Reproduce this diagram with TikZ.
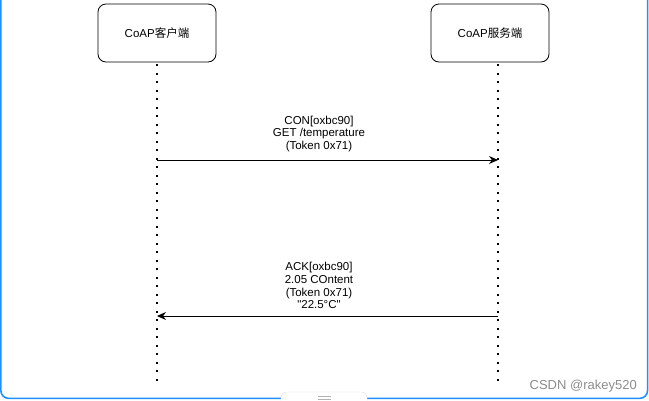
\documentclass[tikz,border=0pt]{standalone}
\usepackage{fontspec}
\setmainfont{Liberation Sans}[Ligatures=TeXOff]
\newfontfamily\cjk{Noto Sans CJK SC}
\usepackage{xcolor}
\usetikzlibrary{arrows.meta}
\definecolor{frameblue}{RGB}{30,144,255}

\begin{document}
\begin{tikzpicture}[x=1pt,y=-1pt,
  font=\fontsize{11.5}{12.8}\selectfont,
  party/.style={draw,rounded corners=8pt,minimum width=118pt,minimum height=58pt,line width=0.8pt},
  lifeline/.style={line width=2pt,dash pattern=on 2pt off 6.5pt},
  msg/.style={line width=0.9pt,-{Stealth[length=9pt,width=8pt]}},
  msgtext/.style={align=center,inner sep=0pt}]
  \useasboundingbox (0,0) rectangle (649,400);

  % frame of the screenshot
  \draw[frameblue,line width=1.6pt,rounded corners=8pt]
    (0.8,-10) -- (0.8,398.4) -- (647.6,398.4) -- (647.6,-10);
  \draw[black!12,fill=white,rounded corners=6pt]
    (281,408) -- (281,392) -- (367,392) -- (367,408);
  \draw[black!30,line width=1pt] (318,396) -- (331,396) (318,399) -- (331,399);

  % the two parties
  \node[party] (client) at (157,33) {CoAP{\cjk 客户端}};
  \node[party] (server) at (490,33) {CoAP{\cjk 服务端}};

  \coordinate (client-end) at (157,385);
  \coordinate (server-end) at (498,385);
  \draw[lifeline] (client.south) ++(0,2) -- (client-end);
  \draw[lifeline] (server.south -| server-end) ++(0,2) -- (server-end);

  % request
  \coordinate (req-a) at (157,160);
  \coordinate (req-b) at (498,160);
  \draw[msg] (req-a) -- (req-b);
  \node[msgtext] (req-text) at (319,134)
    {CON[oxbc90]\\GET /temperature\\(Token 0x71)};

  % response
  \coordinate (ack-a) at (498,316);
  \coordinate (ack-b) at (157,316);
  \draw[msg] (ack-a) -- (ack-b);
  \node[msgtext] (ack-text) at (319,285.5)
    {ACK[oxbc90]\\2.05 COntent\\(Token 0x71)\\"22.5°C"};

  \node[text=black!45,font=\fontsize{13}{15}\selectfont,anchor=east,inner sep=0pt] (mark)
    at (637,386) {CSDN @rakey520};
\end{tikzpicture}
\end{document}
